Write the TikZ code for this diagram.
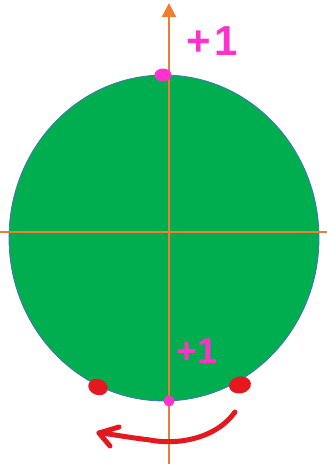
\documentclass[tikz,border=0pt]{standalone}
\usepackage{fontspec}
\setmainfont{Liberation Sans}
\usetikzlibrary{arrows.meta}
\definecolor{fillgreen}{HTML}{00AD4F}
\definecolor{rimblue}{HTML}{4472C4}
\definecolor{axisorange}{HTML}{ED7D31}
\definecolor{pinkmark}{HTML}{FF33CC}
\definecolor{redmark}{HTML}{E3191F}
\tikzset{
  axisline/.style={draw=axisorange, line width=2.2pt},
  plusone/.style={text=pinkmark, font=\fontsize{42}{42}\selectfont\bfseries, inner sep=0pt},
}
\begin{document}
\begin{tikzpicture}[x=1pt,y=-1pt]
\useasboundingbox (0,0) rectangle (327,464);
% disc
\fill[fillgreen, draw=rimblue, line width=0.8pt] (164,238) ellipse [x radius=155, y radius=163];
% axes
\coordinate (hl) at (0,232);
\coordinate (hr) at (327,232);
\coordinate (vb) at (169,464);
\coordinate (vt) at (169,3);
\draw[axisline] (hl) -- (hr);
\draw[axisline, -{Triangle[length=14pt,width=14pt]}] (vb) -- (vt);
% pink dots
\fill[pinkmark] (163,75) ellipse [x radius=8.5, y radius=6.5];
\node[circle, fill=pinkmark, inner sep=0pt, minimum size=11pt] (pb) at (169,401) {};
% red dots
\fill[redmark, rotate around={-20:(98,387)}] (98,387) ellipse [x radius=10, y radius=8];
\fill[redmark, rotate around={10:(240,385)}] (240,385) ellipse [x radius=11, y radius=8.5];
% labels
\node[plusone] (t1) at (212,41) {+\hspace{4pt}1};
\node[plusone, font=\fontsize{36}{36}\selectfont\bfseries] (t2) at (197,351) {+1};
% red curved arrow
\coordinate (as) at (235,412);
\coordinate (ae) at (99,433);
\draw[redmark, line width=5pt, line cap=round] (as) .. controls (215,440) and (175,445) .. (150,440) .. controls (125,437) and (112,434) .. (ae);
\draw[redmark, line width=5pt, line cap=round, line join=round] (119,427) -- (ae) -- (110,446);
\end{tikzpicture}
\end{document}
